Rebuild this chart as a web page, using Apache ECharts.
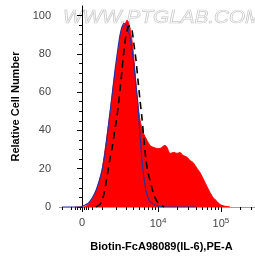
<!DOCTYPE html>
<html>
<head>
<meta charset="utf-8">
<script src="https://cdn.jsdelivr.net/npm/echarts@6/dist/echarts.min.js"></script>
<style>
  html, body { margin: 0; padding: 0; background: #fff; }
  #chart { width: 255px; height: 259px; }
</style>
</head>
<body>
<div id="chart"></div>
<script>
// ── Flow histogram: Biotin-FcA98089(IL-6), PE-A ──

// Red filled sample (fluorescence, relative count)
const redX = [-323, 91, 276, 466, 615, 772, 881, 995, 1176, 1371, 1584, 1815, 2067, 2250, 2443, 2651, 2872, 2989, 3109, 3234, 3362, 3496, 3777, 4078, 4401, 4747, 5118, 5729, 6650, 7436, 8306, 9662, 10769, 12010, 12918, 13904, 15525, 17981, 20064, 22396, 24990, 28930, 32285, 36026, 41700, 46526, 53870, 60105, 67085, 74870, 86600, 96643, 111900, 139330];
const redY = [0, 0, 1.3, 3.9, 7, 11.3, 15, 19, 29.6, 41, 53, 66, 77, 84.6, 91.4, 95, 95.5, 96.6, 97.6, 97, 95.5, 93.5, 87, 76.7, 63.6, 53, 45.3, 39, 34.8, 32.2, 31.2, 30.6, 30.6, 31.7, 32.2, 31.2, 28, 28.5, 28, 28.5, 27, 26, 24.3, 23.3, 20.2, 18, 13.9, 10.7, 7.6, 5, 2.9, 1.3, 0.5, 0];

// Blue outline control
const blueX = [-1000, -91, 91, 276, 466, 666, 881, 1054, 1240, 1440, 1658, 1896, 2157, 2345, 2546, 2760, 2989, 3234, 3496, 3777, 4078, 4401, 4747, 5118, 5517, 5947, 6408, 6901, 7436, 8620, 9987, 12918, 40000];
const blueY = [0, 0, 0.8, 1.8, 4.5, 8.6, 15, 21.7, 32, 45, 58, 71.5, 83, 89.8, 94, 96, 95, 93.5, 88, 82, 74, 63.6, 53, 37.4, 24.3, 15, 8.6, 5, 2.9, 1.3, 0.5, 0, 0];

// Black dashed control
const dashX = [666, 881, 995, 1114, 1240, 1371, 1511, 1658, 1815, 1980, 2157, 2345, 2546, 2760, 2989, 3234, 3496, 3777, 4078, 4401, 4747, 5118, 5517, 5947, 6408, 6901, 7436, 8004, 8620, 9662, 10769, 12451];
const dashY = [0, 1.3, 3.4, 7, 12.8, 19, 25.4, 30.6, 37.4, 44, 51.6, 61, 71.5, 82, 89.8, 94, 94.5, 92.4, 84.6, 76.7, 66, 55.8, 46.3, 34.8, 24.3, 18, 13.9, 9.7, 6, 2.9, 1.3, 0];

// Axis ticks
const xMajor = [0, 10000, 100000];
const xMajorText = ['0', '10{s|4}', '10{s|5}'];
const xMinor = [-1000, -500, -300, -200, -100, 100, 200, 300, 500, 1000, 2000, 3000, 4000, 5000, 6000, 7000, 8000, 9000,
  20000, 30000, 40000, 50000, 60000, 70000, 80000, 90000, 200000, 300000];
const yMajor = [0, 20, 40, 60, 80, 100];
const yMinor = [5, 10, 15, 25, 30, 35, 45, 50, 55, 65, 70, 75, 85, 90, 95];
const xRange = [-1114, 347000];
const yRange = [0, 105];

// biexponential-ish display transform
const W = 1247;
const tr = v => Math.asinh(v / W) / Math.LN10;
const pts = (xs, ys) => xs.map((x, i) => [tr(x), ys[i]]);

const chart = echarts.init(document.getElementById('chart'));
const baseX = {
  type: 'value', min: tr(xRange[0]), max: tr(xRange[1]),
  splitLine: { show: false },
};
const baseY = {
  type: 'value', min: yRange[0], max: yRange[1],
  splitLine: { show: false },
};

chart.setOption({
  animation: false,
  backgroundColor: '#fff',
  grid: { left: 60, right: 0, top: 6, bottom: 52 },
  graphic: [{
    type: 'text', x: 63, y: 9, scaleX: 1.15, z: 0, silent: true,
    style: {
      text: 'WWW.PTGLAB.COM', font: 'italic 18px "Liberation Sans", Arial, sans-serif',
      fill: 'rgba(0,0,0,0)', stroke: '#cacaca', lineWidth: 0.7,
    },
  }],
  xAxis: [
    Object.assign({}, baseX, {
      position: 'bottom',
      name: 'Biotin-FcA98089(IL-6),PE-A', nameLocation: 'middle', nameGap: 34,
      nameTextStyle: { fontFamily: '"Liberation Sans", Arial', fontWeight: 'bold', fontSize: 11, color: '#000', padding: [0, 0, 0, 8] },
      axisLine: { onZero: false, lineStyle: { color: '#000', width: 1 } },
      axisTick: { show: true, length: 5, customValues: xMajor.map(tr), lineStyle: { color: '#000' } },
      axisLabel: {
        customValues: xMajor.map(tr), margin: 10, color: '#444', fontSize: 11, fontFamily: '"Liberation Sans", Arial',
        formatter: v => {
          let best = 0;
          xMajor.forEach((t, i) => { if (Math.abs(tr(t) - v) < Math.abs(tr(xMajor[best]) - v)) best = i; });
          return xMajorText[best];
        },
        rich: { s: { fontSize: 8, color: '#444', verticalAlign: 'top', padding: [0, 0, 6, 0] } },
      },
    }),
    Object.assign({}, baseX, {
      position: 'bottom',
      axisLine: { show: false },
      axisTick: { show: true, length: 3, customValues: xMinor.map(tr), lineStyle: { color: '#000' } },
      axisLabel: { show: false },
    }),
    Object.assign({}, baseX, {
      position: 'top',
      axisLine: { show: true, lineStyle: { color: '#a0a0a0', width: 1 } },
      axisTick: { show: false },
      axisLabel: { show: false },
    }),
  ],
  yAxis: [
    Object.assign({}, baseY, {
      name: 'Relative Cell Number', nameLocation: 'middle', nameGap: 38,
      nameTextStyle: { fontFamily: '"Liberation Sans", Arial', fontWeight: 'bold', fontSize: 11, color: '#000' },
      axisLine: { show: true, lineStyle: { color: '#000', width: 1 } },
      axisTick: { show: true, length: 5, customValues: yMajor, lineStyle: { color: '#000' } },
      axisLabel: { customValues: yMajor, margin: 9, color: '#444', fontSize: 11, fontFamily: '"Liberation Sans", Arial' },
    }),
    Object.assign({}, baseY, {
      position: 'left',
      axisLine: { show: false },
      axisTick: { show: true, length: 3, customValues: yMinor, lineStyle: { color: '#000' } },
      axisLabel: { show: false },
    }),
  ],
  series: [
    {
      type: 'line', data: pts(redX, redY), smooth: 0.2, showSymbol: false, z: 2,
      lineStyle: { color: '#ff0000', width: 1 },
      areaStyle: { color: '#ff0000', opacity: 1 },
    },
    {
      type: 'line', data: pts(blueX, blueY), smooth: 0.2, showSymbol: false, z: 3,
      lineStyle: { color: '#2b2f9a', width: 1.2 },
    },
    {
      type: 'line', data: pts(dashX, dashY), smooth: 0.2, showSymbol: false, z: 4,
      lineStyle: { color: '#000', width: 1.6, type: [7, 5] },
    },
  ],
});
</script>
</body>
</html>
